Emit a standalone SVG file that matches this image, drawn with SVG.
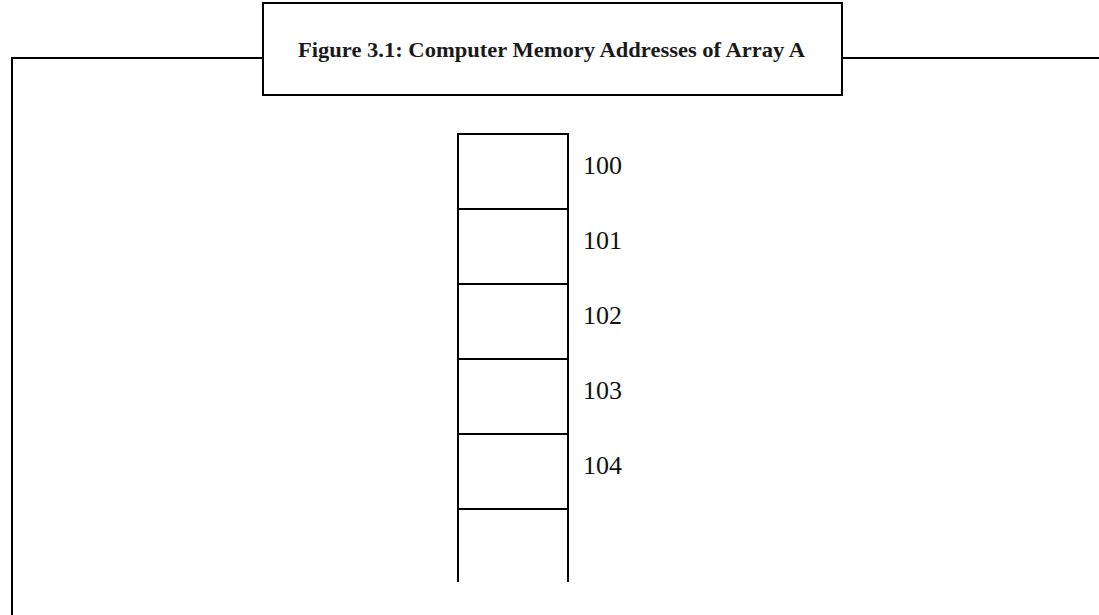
<svg xmlns="http://www.w3.org/2000/svg" width="1099" height="615" viewBox="0 0 1099 615">
  <style>
    .ln { fill: none; stroke: #000; stroke-width: 2; }
    .title { font-family: "Liberation Serif", "Times New Roman", serif; font-weight: bold; font-size: 20px; fill: #1a1a1a; }
    .addr { font-family: "Liberation Serif", "Times New Roman", serif; font-size: 26px; fill: #111; }
  </style>
  <rect width="1099" height="615" fill="#fff"/>

  <!-- frame rule around the figure -->
  <g id="frame">
    <path class="ln" d="M12 615 V58 H263 M842 58 H1099"/>
  </g>

  <!-- caption box -->
  <g id="caption">
    <rect class="ln" x="263" y="3" width="579" height="92" fill="#fff"/>
    <text class="title" x="298" y="57" textLength="507" lengthAdjust="spacingAndGlyphs">Figure 3.1: Computer Memory Addresses of Array A</text>
  </g>

  <!-- memory cells -->
  <g id="memory">
    <path class="ln" d="M458 582 V134 H568 V582 M458 209 H568 M458 284 H568 M458 359 H568 M458 434 H568 M458 509 H568"/>
  </g>

  <!-- address labels -->
  <g id="addresses">
    <text class="addr" x="583" y="174">100</text>
    <text class="addr" x="583" y="249">101</text>
    <text class="addr" x="583" y="324">102</text>
    <text class="addr" x="583" y="399">103</text>
    <text class="addr" x="583" y="474">104</text>
  </g>
</svg>
